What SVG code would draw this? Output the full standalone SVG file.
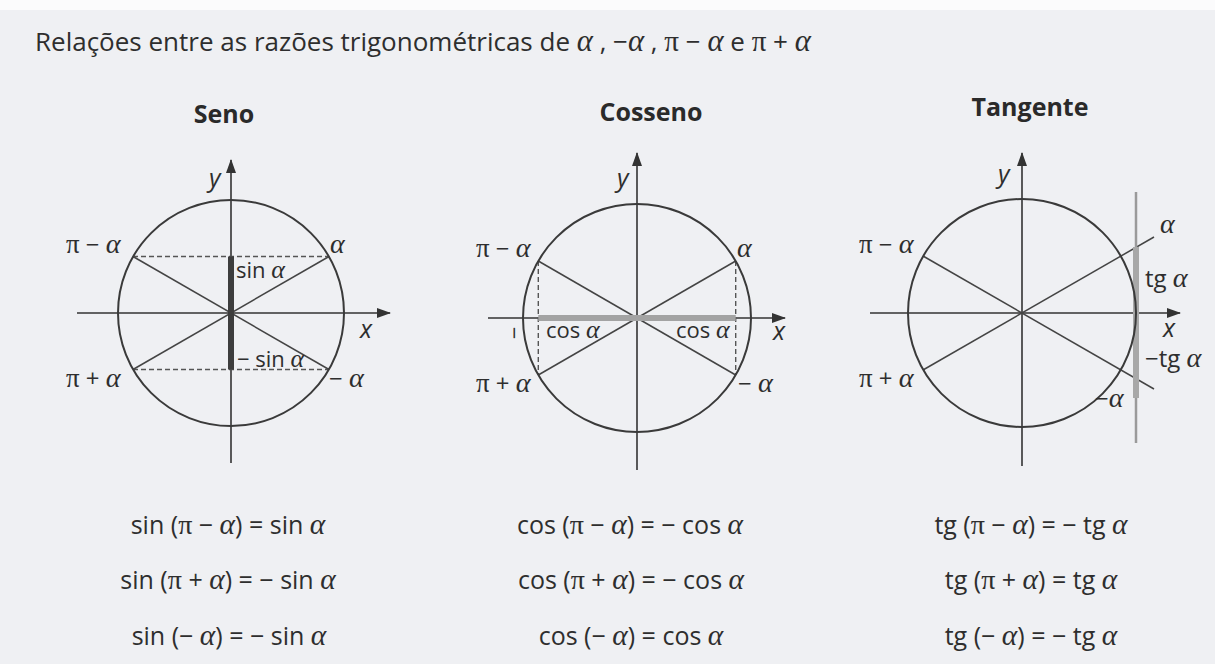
<svg xmlns="http://www.w3.org/2000/svg" width="1215" height="664" viewBox="0 0 1215 664">
<defs>
<style>
.t{font-family:"Open Sans","Noto Sans",sans-serif;fill:#2e2e2e}
.h{font-family:"Open Sans","Noto Sans",sans-serif;font-weight:bold;fill:#2a2a2a;font-size:25px;text-anchor:middle}
.gr{font-family:"Liberation Serif",serif;font-style:italic;font-size:118%}
.pi{font-family:"Liberation Serif",serif;font-size:112%}
.ga{font-family:"Liberation Serif",serif;font-style:italic;font-size:28px;fill:#2e2e2e}
.xy{font-family:"Open Sans","Noto Sans",sans-serif;font-style:italic;font-size:25px;fill:#2e2e2e}
.ax{stroke:#333;stroke-width:1.6;fill:none}
.circ{stroke:#3a3a3a;stroke-width:2;fill:none}
.sp{stroke:#444;stroke-width:1.5;fill:none}
.dash{stroke:#555;stroke-width:1.4;stroke-dasharray:5 3;fill:none}
.lab{font-size:24px}
.sm{font-size:22px}
.f{font-size:25px;text-anchor:middle}
</style>
<marker id="arr" markerWidth="14" markerHeight="10" refX="13" refY="5" orient="auto" markerUnits="userSpaceOnUse"><path d="M0,0 L14,5 L0,10 z" fill="#333"/></marker>
</defs>
<rect x="0" y="0" width="1215" height="664" fill="#fbfbfc"/>
<rect x="0" y="10" width="1215" height="654" fill="#eff0f3"/>

<g id="title">
<text class="t" x="35" y="51" font-size="26">Relações entre as razões trigonométricas de  <tspan class="gr">α</tspan> , −<tspan class="gr">α</tspan> , <tspan class="pi">π</tspan> − <tspan class="gr">α</tspan>  e  <tspan class="pi">π</tspan> + <tspan class="gr">α</tspan></text>
</g>

<g id="connectors">
<line class="ax" x1="231" y1="463" x2="231" y2="160" marker-end="url(#arr)"/>
<line class="ax" x1="77" y1="313" x2="390" y2="313" marker-end="url(#arr)"/>
<line class="sp" x1="133" y1="369.5" x2="329" y2="256.5"/>
<line class="sp" x1="133" y1="256.5" x2="329" y2="369.5"/>
<line class="dash" x1="133" y1="256.5" x2="329" y2="256.5"/>
<line class="dash" x1="133" y1="369.5" x2="329" y2="369.5"/>
<line x1="231" y1="256.5" x2="231" y2="369.5" stroke="#3d3d3d" stroke-width="6"/>
<line class="ax" x1="637" y1="470" x2="637" y2="153" marker-end="url(#arr)"/>
<line class="ax" x1="488" y1="318" x2="785" y2="318" marker-end="url(#arr)"/>
<line class="sp" x1="538.3" y1="375" x2="735.7" y2="261"/>
<line class="sp" x1="538.3" y1="261" x2="735.7" y2="375"/>
<line class="dash" x1="538.3" y1="261" x2="538.3" y2="375"/>
<line class="dash" x1="735.7" y1="261" x2="735.7" y2="375"/>
<line x1="538.3" y1="318" x2="735.7" y2="318" stroke="#a3a3a3" stroke-width="6"/>
<line class="ax" x1="1022" y1="466" x2="1022" y2="153" marker-end="url(#arr)"/>
<line class="ax" x1="870" y1="313" x2="1180" y2="313" marker-end="url(#arr)"/>
<line class="sp" x1="923" y1="370" x2="1154" y2="237"/>
<line class="sp" x1="923" y1="256" x2="1154" y2="389"/>
<line x1="1136" y1="192" x2="1136" y2="443" stroke="#9a9a9a" stroke-width="2.5"/>
<line x1="1136" y1="247" x2="1136" y2="398" stroke="#a8a8a8" stroke-width="6"/>
</g>

<g id="seno">
<text class="h" x="224" y="123">Seno</text>
<circle class="circ" cx="231" cy="313" r="113"/>
<text class="t lab" x="66" y="253"><tspan class="pi">π</tspan> − <tspan class="gr">α</tspan></text>
<text class="ga" x="330" y="253">α</text>
<text class="t sm" x="236" y="278">sin <tspan class="gr">α</tspan></text>
<text class="t sm" x="237" y="367">− sin <tspan class="gr">α</tspan></text>
<text class="t lab" x="66" y="387"><tspan class="pi">π</tspan> + <tspan class="gr">α</tspan></text>
<text class="t lab" x="329" y="387">− <tspan class="gr">α</tspan></text>
<text class="xy" x="360" y="338">x</text>
<text class="xy" x="209" y="187">y</text>
</g>

<g id="cosseno">
<text class="h" x="651" y="121">Cosseno</text>
<circle class="circ" cx="637" cy="318" r="114"/>
<text class="t lab" x="476" y="257"><tspan class="pi">π</tspan> − <tspan class="gr">α</tspan></text>
<text class="ga" x="737" y="257">α</text>
<text class="t sm" x="546" y="338">cos <tspan class="gr">α</tspan></text>
<text class="t sm" x="0" y="0" transform="translate(522,333) rotate(-90)" text-anchor="middle">−</text>
<text class="t sm" x="676" y="338">cos <tspan class="gr">α</tspan></text>
<text class="t lab" x="476" y="392"><tspan class="pi">π</tspan> + <tspan class="gr">α</tspan></text>
<text class="t lab" x="738" y="392">− <tspan class="gr">α</tspan></text>
<text class="xy" x="773" y="340">x</text>
<text class="xy" x="617" y="187">y</text>
</g>

<g id="tangente">
<text class="h" x="1030" y="116">Tangente</text>
<circle class="circ" cx="1022" cy="313" r="114"/>
<text class="t lab" x="859" y="253"><tspan class="pi">π</tspan> − <tspan class="gr">α</tspan></text>
<text class="ga" x="1160" y="233">α</text>
<text class="t lab" x="1145" y="287">tg <tspan class="gr">α</tspan></text>
<text class="xy" x="1163" y="337">x</text>
<text class="t lab" x="1145" y="367">−tg <tspan class="gr">α</tspan></text>
<text class="t lab" x="859" y="387"><tspan class="pi">π</tspan> + <tspan class="gr">α</tspan></text>
<text class="t lab" x="1095" y="407">−<tspan class="gr">α</tspan></text>
<text class="xy" x="998" y="183">y</text>
</g>

<g id="formulas-seno">
<text class="t f" x="228" y="534">sin (<tspan class="pi">π</tspan> − <tspan class="gr">α</tspan>) = sin <tspan class="gr">α</tspan></text>
<text class="t f" x="228" y="589">sin (<tspan class="pi">π</tspan> + <tspan class="gr">α</tspan>) = − sin <tspan class="gr">α</tspan></text>
<text class="t f" x="229" y="645">sin (− <tspan class="gr">α</tspan>) = − sin <tspan class="gr">α</tspan></text>
</g>

<g id="formulas-cosseno">
<text class="t f" x="630" y="534">cos (<tspan class="pi">π</tspan> − <tspan class="gr">α</tspan>) = − cos <tspan class="gr">α</tspan></text>
<text class="t f" x="631" y="589">cos (<tspan class="pi">π</tspan> + <tspan class="gr">α</tspan>) = − cos <tspan class="gr">α</tspan></text>
<text class="t f" x="631" y="645">cos (− <tspan class="gr">α</tspan>) = cos <tspan class="gr">α</tspan></text>
</g>

<g id="formulas-tangente">
<text class="t f" x="1031" y="534">tg (<tspan class="pi">π</tspan> − <tspan class="gr">α</tspan>) = − tg <tspan class="gr">α</tspan></text>
<text class="t f" x="1031" y="589">tg (<tspan class="pi">π</tspan> + <tspan class="gr">α</tspan>) = tg <tspan class="gr">α</tspan></text>
<text class="t f" x="1031" y="645">tg (− <tspan class="gr">α</tspan>) = − tg <tspan class="gr">α</tspan></text>
</g>
</svg>
